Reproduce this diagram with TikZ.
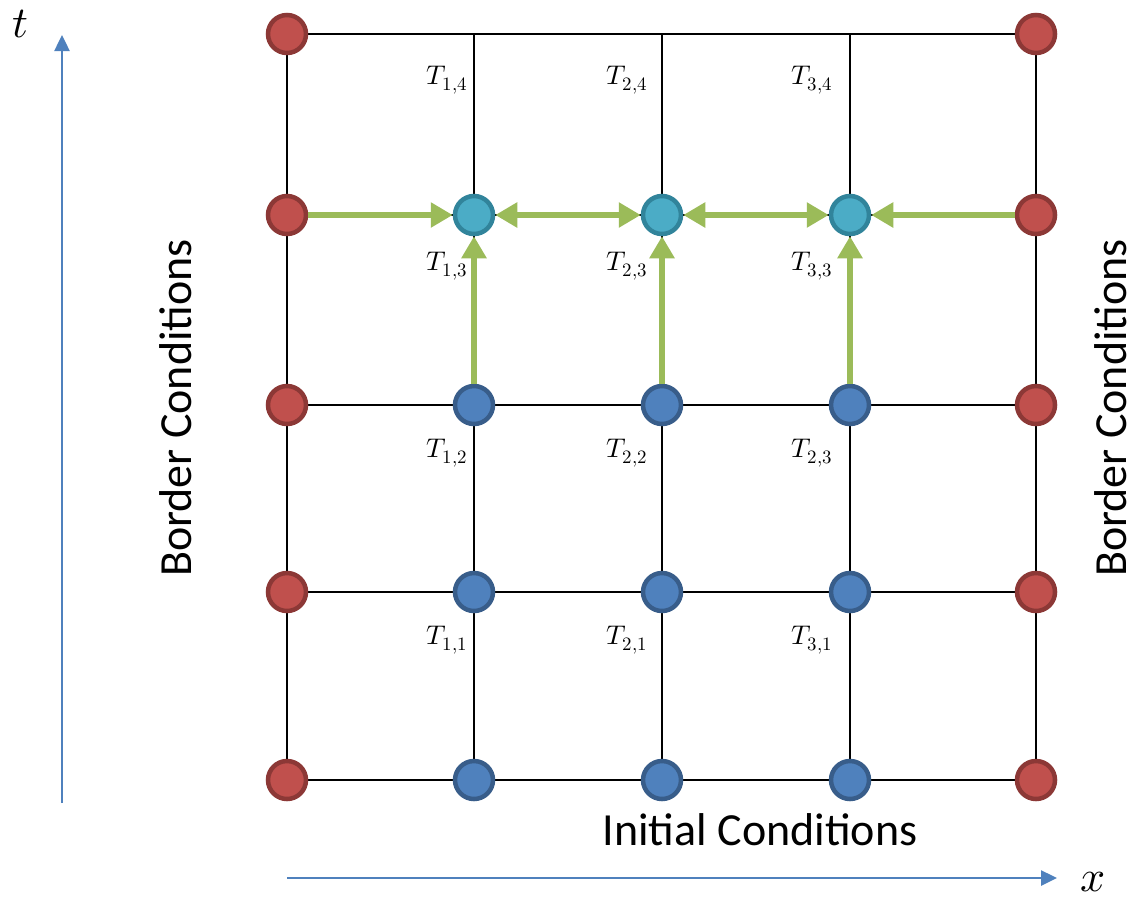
\documentclass[tikz,border=0pt]{standalone}
\usepackage{fontspec}
\usepackage{unicode-math}
\setmainfont{Carlito}
\setmathfont{Latin Modern Math}
\usetikzlibrary{arrows.meta}
\definecolor{redfill}{HTML}{C0504D}
\definecolor{redline}{HTML}{8C3836}
\definecolor{bluefill}{HTML}{4F81BD}
\definecolor{blueline}{HTML}{385D8A}
\definecolor{cyanfill}{HTML}{4BACC6}
\definecolor{cyanline}{HTML}{31849B}
\definecolor{greenarrow}{HTML}{9BBB59}
\definecolor{axisblue}{HTML}{4F81BD}
\tikzset{
  dot/.style={circle, minimum size=38pt, inner sep=0pt, line width=4.5pt},
  rednode/.style={dot, fill=redfill, draw=redline},
  bluenode/.style={dot, fill=bluefill, draw=blueline},
  cyannode/.style={dot, fill=cyanfill, draw=cyanline},
  gridline/.style={line width=2.5pt, black},
  garrow/.style={line width=6.5pt, greenarrow, -{Triangle[length=22pt,width=24pt]}},
  gdarrow/.style={line width=6.5pt, greenarrow, {Triangle[length=22pt,width=24pt]}-{Triangle[length=22pt,width=24pt]}},
  axisarrow/.style={line width=2.5pt, axisblue, -{Triangle[length=16pt,width=15pt]}},
  tlabel/.style={anchor=base, inner sep=0pt, font=\fontsize{27}{30}\selectfont},
  bigtext/.style={inner sep=0pt, font=\fontsize{46}{50}\selectfont},
  axislabel/.style={inner sep=0pt, font=\fontsize{44}{48}\selectfont},
}
\begin{document}
\begin{tikzpicture}[x=1pt,y=-1pt]
\useasboundingbox (0,0) rectangle (1134,898);
% grid coordinates
\foreach \i/\x in {0/287,1/474,2/662,3/850,4/1036}
  \foreach \j/\y in {0/780,1/592,2/405,3/215,4/34}
    \coordinate (c-\i-\j) at (\x,\y);
% grid lines
\foreach \j in {0,...,4} \draw[gridline] (c-0-\j) -- (c-4-\j);
\foreach \i in {0,...,4} \draw[gridline] (c-\i-0) -- (c-\i-4);
% border nodes
\foreach \j in {0,...,4} {
  \node[rednode] (r-0-\j) at (c-0-\j) {};
  \node[rednode] (r-4-\j) at (c-4-\j) {};
}
% interior nodes
\foreach \i in {1,2,3} {
  \foreach \j in {0,1,2} \node[bluenode] (b-\i-\j) at (c-\i-\j) {};
  \node[cyannode] (cy-\i) at (c-\i-3) {};
}
% green arrows
\draw[garrow] (r-0-3) -- (cy-1);
\draw[gdarrow] (cy-1) -- (cy-2);
\draw[gdarrow] (cy-2) -- (cy-3);
\draw[garrow] (r-4-3) -- (cy-3);
\foreach \i in {1,2,3} \draw[garrow] (b-\i-2) -- (cy-\i);
% T labels
\node[tlabel] (l14) at (447,84) {$T_{1,4}$};
\node[tlabel] (l24) at (627,84) {$T_{2,4}$};
\node[tlabel] (l34) at (812,84) {$T_{3,4}$};
\node[tlabel] (l13) at (447,270) {$T_{1,3}$};
\node[tlabel] (l23) at (627,270) {$T_{2,3}$};
\node[tlabel] (l33) at (812,270) {$T_{3,3}$};
\node[tlabel] (l12) at (447,457) {$T_{1,2}$};
\node[tlabel] (l22) at (627,457) {$T_{2,2}$};
\node[tlabel] (l32) at (812,457) {$T_{2,3}$};
\node[tlabel] (l11) at (447,644) {$T_{1,1}$};
\node[tlabel] (l21) at (627,644) {$T_{2,1}$};
\node[tlabel] (l31) at (812,644) {$T_{3,1}$};
% axes
\coordinate (t0) at (62,803);
\coordinate (t1) at (62,35);
\draw[axisarrow] (t0) -- (t1);
\coordinate (x0) at (287,878);
\coordinate (x1) at (1057,878);
\draw[axisarrow] (x0) -- (x1);
\node[axislabel] (tl) at (20,24) {$t$};
\node[axislabel] (xl) at (1093,882) {$x$};
% texts
\node[bigtext, rotate=90] (bcl) at (176,408) {Border Conditions};
\node[bigtext, rotate=90] (bcr) at (1111,408) {Border Conditions};
\node[bigtext] (ic) at (760,830) {Initial Conditions};
\end{tikzpicture}
\end{document}
